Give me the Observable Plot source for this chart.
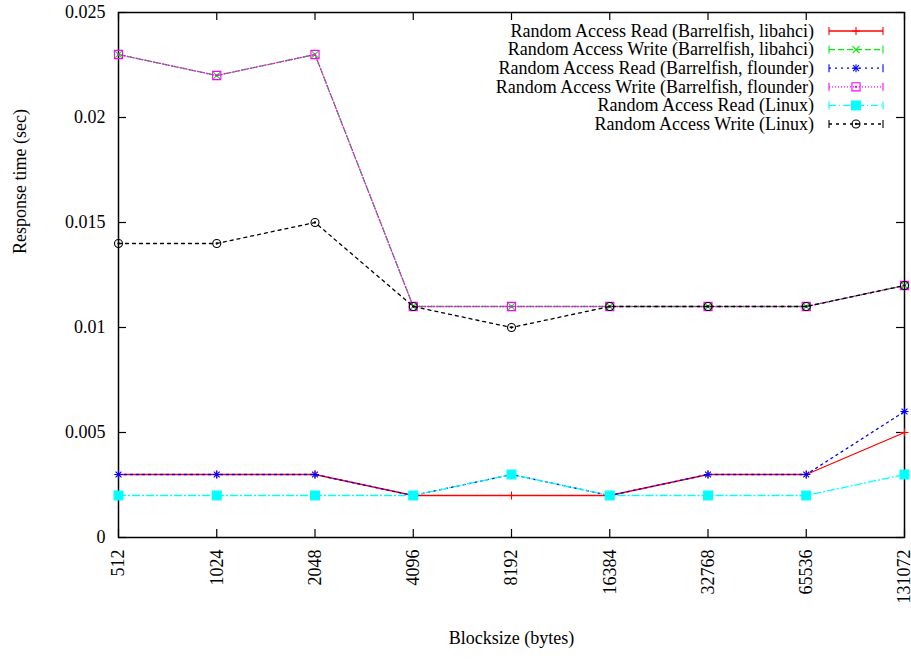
<!DOCTYPE html>
<html>
<head>
<meta charset="utf-8">
<script src="https://cdn.jsdelivr.net/npm/d3@7"></script>
<script src="https://cdn.jsdelivr.net/npm/@observablehq/plot@0.6"></script>
<style>
  html, body { margin: 0; padding: 0; background: #fff; }
  #chart svg { display: block; }
</style>
</head>
<body>
<div id="chart"></div>
<script>
// Block sizes (bytes) on the x axis
const blocksizes = [512, 1024, 2048, 4096, 8192, 16384, 32768, 65536, 131072];

// Response times (sec) per configuration
const readLibahci   = [0.003, 0.003, 0.003, 0.002, 0.002, 0.002, 0.003, 0.003, 0.005];
const writeLibahci  = [0.023, 0.022, 0.023, 0.011, 0.011, 0.011, 0.011, 0.011, 0.012];
const readFlounder  = [0.003, 0.003, 0.003, 0.002, 0.003, 0.002, 0.003, 0.003, 0.006];
const writeFlounder = [0.023, 0.022, 0.023, 0.011, 0.011, 0.011, 0.011, 0.011, 0.012];
const readLinux     = [0.002, 0.002, 0.002, 0.002, 0.003, 0.002, 0.002, 0.002, 0.003];
const writeLinux    = [0.014, 0.014, 0.015, 0.011, 0.010, 0.011, 0.011, 0.011, 0.012];

const yTicks = [0, 0.005, 0.01, 0.015, 0.02, 0.025];

const seriesNames = [
  "Random Access Read (Barrelfish, libahci)",
  "Random Access Write (Barrelfish, libahci)",
  "Random Access Read (Barrelfish, flounder)",
  "Random Access Write (Barrelfish, flounder)",
  "Random Access Read (Linux)",
  "Random Access Write (Linux)"
];

// Line and point styles, one per series (gnuplot-like)
const series = [
  { name: seriesNames[0], values: readLibahci,   color: "#ff0000", dash: null,      pts: [{ symbol: "plus", r: 2.7 }] },
  { name: seriesNames[1], values: writeLibahci,  color: "#00ee00", dash: "6,3",     pts: [{ symbol: "times", r: 3.2 }] },
  { name: seriesNames[2], values: readFlounder,  color: "#0000ff", dash: "2,4",     pts: [{ symbol: "plus", r: 2.7 }, { symbol: "times", r: 2.8 }] },
  { name: seriesNames[3], values: writeFlounder, color: "#ff00ff", dash: "1,2",     pts: [{ symbol: "square2", r: 5.2 }, { symbol: "square2", r: 0.6 }] },
  { name: seriesNames[4], values: readLinux,     color: "#00ffff", dash: "7,3,1,3", pts: [{ symbol: "square", r: 5.0, fill: true }] },
  { name: seriesNames[5], values: writeLinux,    color: "#000000", dash: "3,4",     pts: [{ symbol: "circle", r: 4.0 }, { symbol: "circle", r: 0.6 }] }
];

const width = 911, height = 659;
const marginLeft = 118, marginRight = 7, marginTop = 12, marginBottom = 122;
const frameW = width - marginLeft - marginRight;
const frameH = height - marginTop - marginBottom;
const tickLen = 8;
const lineWidth = 1.3;

const marks = [];
for (const s of series) {
  marks.push(Plot.line(blocksizes, {
    x: d => d, y: (d, i) => s.values[i],
    stroke: s.color, strokeWidth: lineWidth, strokeDasharray: s.dash
  }));
  for (const p of s.pts) {
    marks.push(Plot.dot(blocksizes, {
      x: d => d, y: (d, i) => s.values[i],
      symbol: p.symbol, r: p.r,
      stroke: s.color, strokeWidth: 1.1,
      fill: p.fill ? s.color : "none"
    }));
  }
}

const chart = Plot.plot({
  width, height, marginLeft, marginRight, marginTop, marginBottom,
  style: { fontFamily: "'Liberation Serif', 'Times New Roman', serif", fontSize: "18px", background: "#fff", overflow: "visible" },
  x: { type: "log", base: 2, domain: [512, 131072] },
  y: { domain: [0, 0.025] },
  marks: [
    Plot.frame({ stroke: "#000", strokeWidth: 1.5 }),
    // inward ticks on all four sides
    Plot.tickX(blocksizes, { x: d => d, insetTop: frameH - tickLen, stroke: "#000", strokeWidth: 1.2 }),
    Plot.tickX(blocksizes, { x: d => d, insetBottom: frameH - tickLen, stroke: "#000", strokeWidth: 1.2 }),
    Plot.tickY(yTicks, { y: d => d, insetRight: frameW - tickLen, stroke: "#000", strokeWidth: 1.2 }),
    Plot.tickY(yTicks, { y: d => d, insetLeft: frameW - tickLen, stroke: "#000", strokeWidth: 1.2 }),
    Plot.axisX(blocksizes, { tickSize: 0, tickPadding: 12, tickRotate: -90, tickFormat: d => String(d), label: null, fill: "#000" }),
    Plot.axisY(yTicks, { tickSize: 0, tickPadding: 13, tickFormat: d => String(d), label: null, fill: "#000" }),
    ...marks,
    Plot.text(["Blocksize (bytes)"], { frameAnchor: "bottom", dy: 106, fill: "#000" }),
    Plot.text(["Response time (sec)"], { frameAnchor: "left", dx: -98, dy: -21, rotate: -90, fill: "#000" })
  ]
});

// Key in the upper right corner of the frame
const svg = d3.select(chart);
const key = svg.append("g").attr("class", "key");
const rowY0 = 31, rowStep = 18.6;
const textRight = 814, sampleX1 = 829, sampleX2 = 883, sampleMid = 856;
const symbolMap = { plus: d3.symbolPlus, times: d3.symbolTimes, square2: d3.symbolSquare2, square: d3.symbolSquare, circle: d3.symbolCircle };
series.forEach((s, k) => {
  const y = rowY0 + k * rowStep;
  key.append("text")
    .attr("x", textRight).attr("y", y).attr("dy", "0.32em")
    .attr("text-anchor", "end")
    .attr("fill", "#000")
    .style("font-family", "'Liberation Serif', 'Times New Roman', serif")
    .style("font-size", "18px")
    .text(s.name);
  key.append("line")
    .attr("x1", sampleX1).attr("x2", sampleX2).attr("y1", y).attr("y2", y)
    .attr("stroke", s.color).attr("stroke-width", lineWidth)
    .attr("stroke-dasharray", s.dash);
  for (const bx of [sampleX1, sampleX2]) {
    key.append("line")
      .attr("x1", bx).attr("x2", bx).attr("y1", y - 4).attr("y2", y + 4)
      .attr("stroke", s.color).attr("stroke-width", 1.1);
  }
  for (const p of s.pts) {
    key.append("path")
      .attr("transform", `translate(${sampleMid},${y})`)
      .attr("d", d3.symbol(symbolMap[p.symbol], p.r * p.r * Math.PI)())
      .attr("stroke", s.color).attr("stroke-width", 1.1)
      .attr("fill", p.fill ? s.color : "none");
  }
});

document.getElementById("chart").appendChild(chart);
</script>
</body>
</html>
